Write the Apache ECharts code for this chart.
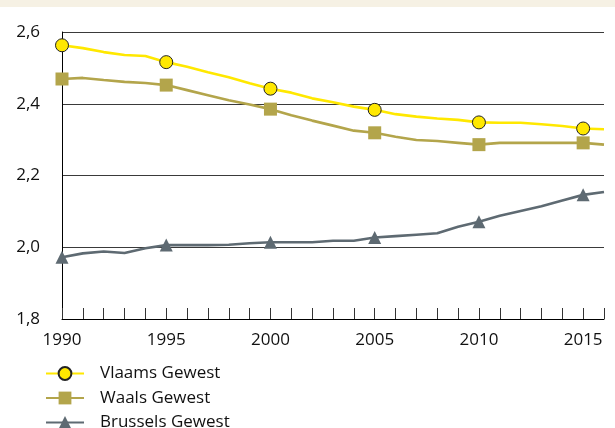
<!DOCTYPE html>
<html><head><meta charset="utf-8">
<script src="https://cdn.jsdelivr.net/npm/echarts@6/dist/echarts.min.js"></script>
<style>html,body{margin:0;padding:0;background:#fff}#c{width:615px;height:428px}</style>
</head><body><div id="c"></div>
<script>
const years = ['1990','1991','1992','1993','1994','1995','1996','1997','1998','1999','2000','2001','2002','2003','2004','2005','2006','2007','2008','2009','2010','2011','2012','2013','2014','2015','2016'];
const vlaams = [2.563,2.555,2.544,2.536,2.533,2.516,2.503,2.488,2.474,2.457,2.442,2.431,2.415,2.404,2.392,2.383,2.371,2.364,2.359,2.355,2.348,2.347,2.347,2.343,2.338,2.331,2.329];
const waals = [2.469,2.472,2.466,2.461,2.458,2.452,2.438,2.424,2.410,2.398,2.385,2.368,2.353,2.339,2.325,2.319,2.308,2.299,2.296,2.291,2.286,2.291,2.291,2.291,2.291,2.291,2.286];
const brussels = [1.972,1.983,1.988,1.984,1.997,2.006,2.006,2.006,2.007,2.011,2.014,2.014,2.014,2.018,2.018,2.027,2.031,2.035,2.039,2.057,2.071,2.088,2.101,2.114,2.130,2.146,2.154];
const seriesNames = ['Vlaams Gewest','Waals Gewest','Brussels Gewest'];
const yTicks = {min:1.8, max:2.6, interval:0.2};

const FONT = 'Open Sans';
const chart = echarts.init(document.getElementById('c'), null, {renderer:'canvas'});
const markerSize = (v, p) => (p.dataIndex % 5 === 0 ? 13 : 0);
chart.setOption({
  animation:false,
  backgroundColor:'#fff',
  graphic:[{type:'rect', shape:{x:0,y:0,width:615,height:7}, style:{fill:'#f6f1e4'}, z:-1}],
  grid:{left:62, right:11, top:32, bottom:109},
  xAxis:{
    type:'category', data:years, boundaryGap:false,
    axisLine:{lineStyle:{color:'#000', width:1}},
    axisTick:{inside:true, length:11, interval:0, lineStyle:{color:'#333'}},
    axisLabel:{interval:(i)=> i%5===0, color:'#111', fontFamily:FONT, fontSize:17, margin:13},
    splitLine:{show:false}
  },
  yAxis:{
    type:'value', min:yTicks.min, max:yTicks.max, interval:yTicks.interval,
    axisLine:{show:true, lineStyle:{color:'#000', width:1}},
    axisTick:{show:false},
    axisLabel:{color:'#111', fontFamily:FONT, fontSize:17, margin:22,
      formatter:(v)=> v.toFixed(1).replace('.', ',')},
    splitLine:{lineStyle:{color:'#3a3a3a', width:1}}
  },
  legend:{
    orient:'vertical', left:40, top:360, height:90, itemWidth:38, itemHeight:16, itemGap:7.5,
    data:seriesNames,
    textStyle:{color:'#111', fontFamily:FONT, fontSize:17, lineHeight:16, padding:[0,0,0,11]}
  },
  series:[
    {name:seriesNames[0], type:'line', data:vlaams, symbol:'circle', symbolSize:markerSize, showAllSymbol:true,
      lineStyle:{color:'#ffe800', width:2.6}, itemStyle:{color:'#ffe800', borderColor:'#222', borderWidth:1}, z:4},
    {name:seriesNames[1], type:'line', data:waals, symbol:'rect', symbolSize:markerSize, showAllSymbol:true,
      lineStyle:{color:'#b3a54b', width:2.6}, itemStyle:{color:'#b3a54b'}, z:3},
    {name:seriesNames[2], type:'line', data:brussels, symbol:'triangle', symbolSize:markerSize, showAllSymbol:true,
      lineStyle:{color:'#5e6a72', width:2.6}, itemStyle:{color:'#5e6a72'}, z:2}
  ]
});
</script></body></html>
